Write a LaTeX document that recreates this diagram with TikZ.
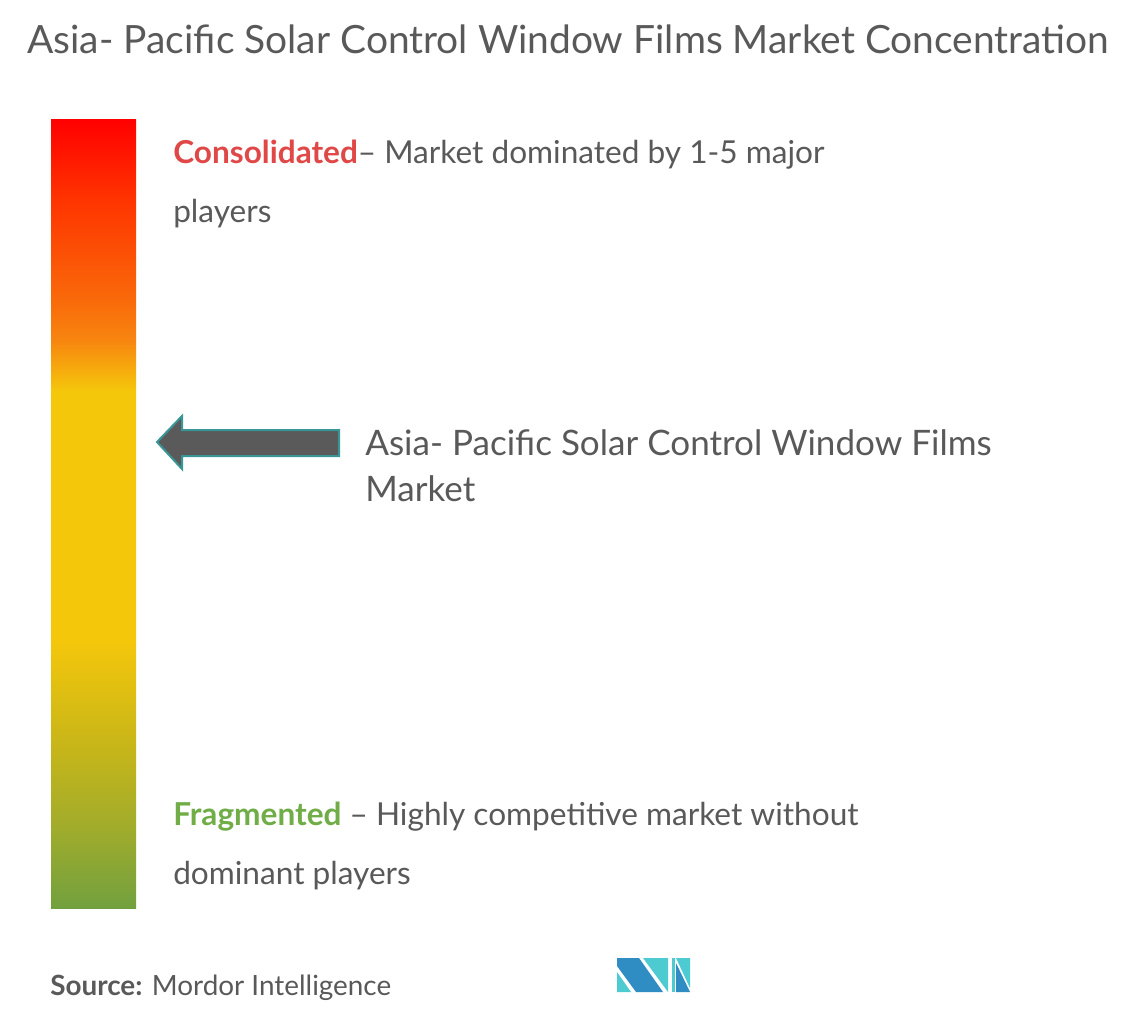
\documentclass[tikz,border=0pt]{standalone}
\usepackage{fontspec}
\setmainfont{Lato}
\definecolor{textgray}{HTML}{595959}
\definecolor{consred}{HTML}{E04848}
\definecolor{fraggreen}{HTML}{70AD47}
\definecolor{arrowfill}{HTML}{5A5A5A}
\definecolor{arrowline}{HTML}{3A9696}
\definecolor{logoblue}{HTML}{2F8DC3}
\definecolor{logoteal}{HTML}{4DCBD1}
\definecolor{barA}{HTML}{72A03E}
\definecolor{barB}{HTML}{A4AD2A}
\definecolor{barC}{HTML}{C9B618}
\definecolor{barD}{HTML}{F5C70B}
\definecolor{barE}{HTML}{F7850F}
\definecolor{barF}{HTML}{F96A0A}
\definecolor{barG}{HTML}{FF3300}
\definecolor{barH}{HTML}{FF0000}
\pgfdeclareverticalshading{concbar}{100bp}{color(0bp)=(barA); color(25bp)=(barA);
  color(30.5bp)=(barB); color(35.5bp)=(barC); color(42bp)=(barD); color(57.75bp)=(barD);
  color(61bp)=(barE); color(63.5bp)=(barF); color(70bp)=(barG); color(75bp)=(barH);
  color(100bp)=(barH)}
\begin{document}
\begin{tikzpicture}[x=0.75pt,y=-0.75pt,
  title text/.style={anchor=base west,inner sep=0,text=textgray,font=\fontsize{29.2}{34}\selectfont},
  body text/.style={anchor=base west,inner sep=0,text=textgray,font=\fontsize{23.7}{29}\selectfont},
  label text/.style={anchor=base west,inner sep=0,text=textgray,font=\fontsize{26.3}{31}\selectfont},
  source text/.style={anchor=base west,inner sep=0,text=textgray,font=\fontsize{20.9}{25}\selectfont}]

  \useasboundingbox[fill=white] (0,0) rectangle (1144,1021);

  \node[title text] (title) at (27,53) {Asia- Pacific Solar Control Window Films Market Concentration};

  % concentration bar
  \path[shading=concbar] (51,119) rectangle (136,908);
  \coordinate (bar) at (157,442);

  \node[body text] (cons) at (173,163) {\textcolor{consred}{\textbf{Consolidated}}– Market dominated by 1-5 major};
  \node[body text] (cons2) at (173,222) {players};

  \node[label text] (mkt) at (365,455) {Asia- Pacific Solar Control Window Films};
  \node[label text] (mkt2) at (365,501) {Market};

  \node[body text] (frag) at (173,825) {\textcolor{fraggreen}{\textbf{Fragmented}} – Highly competitive market without};
  \node[body text] (frag2) at (173,884) {dominant players};

  % arrow from label to bar
  \draw[fill=arrowfill,draw=arrowline,line width=1.5pt,line join=miter]
    (bar) -- ++(25,-26) -- ++(0,14) -- ++(157,0) -- ++(0,26) -- ++(-157,0) -- ++(0,13) -- cycle;

  \node[source text] (src) at (50,995) {\textbf{Source:} Mordor Intelligence};

  % logo
  \fill[logoteal] (617,972) -- (617,992) -- (631,992) -- cycle;
  \fill[logoblue] (617,958) -- (639,958) -- (663,992) -- (636,992) -- (617,966) -- cycle;
  \fill[logoteal] (643,958) -- (668,958) -- (668,992) -- cycle;
  \fill[logoteal] (672,958) rectangle (675,992);
  \fill[logoteal] (676,958) -- (690,958) -- (690,988) -- cycle;
  \fill[logoblue] (676,963) -- (676,992) -- (690,992) -- cycle;
\end{tikzpicture}
\end{document}
